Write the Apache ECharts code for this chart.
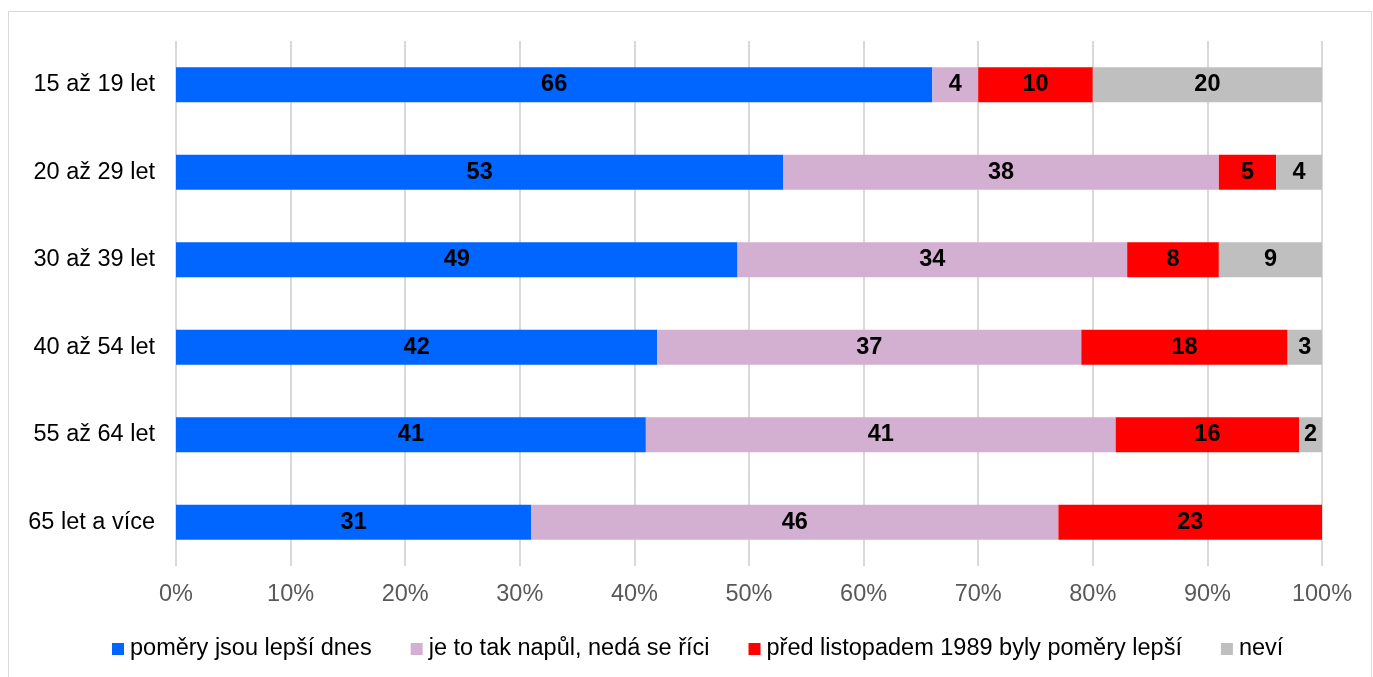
<!DOCTYPE html>
<html>
<head>
<meta charset="utf-8">
<script src="https://cdn.jsdelivr.net/npm/echarts@6/dist/echarts.min.js"></script>
<style>
  html, body { margin: 0; padding: 0; background: #fff; }
  #chart { width: 1373px; height: 677px; }
</style>
</head>
<body>
<div id="chart"></div>
<script>
const categories = ['15 až 19 let', '20 až 29 let', '30 až 39 let', '40 až 54 let', '55 až 64 let', '65 let a více']
const seriesNames = ['poměry jsou lepší dnes', 'je to tak napůl, nedá se říci', 'před listopadem 1989 byly poměry lepší', 'neví']
const lepsiDnes = [66, 53, 49, 42, 41, 31]
const napul = [4, 38, 34, 37, 41, 46]
const pred1989 = [10, 5, 8, 18, 16, 23]
const nevi = [20, 4, 9, 3, 2, 0]
const colors = ['#0066FF', '#D3AFD2', '#FF0000', '#BFBFBF']

const chart = echarts.init(document.getElementById('chart'))
const font = 'Liberation Sans, Arial, sans-serif'

const series = [lepsiDnes, napul, pred1989, nevi].map((vals, i) => {
  return {
    type: 'bar',
    name: seriesNames[i],
    stack: 'total',
    data: vals,
    barWidth: '40%',
    itemStyle: { color: colors[i] },
    label: {
      show: true,
      position: 'inside',
      color: '#000',
      fontWeight: 'bold',
      fontSize: 23.5,
      fontFamily: font,
      formatter: p => (p.value > 0 ? p.value : '')
    }
  }
})

chart.setOption({
  animation: false,
  graphic: [{
    type: 'rect',
    shape: { x: 8.5, y: 11.5, width: 1363, height: 680 },
    style: { fill: 'none', stroke: '#d9d9d9', lineWidth: 1 }
  }],
  grid: { left: 176, right: 51, top: 41, bottom: 111 },
  legend: {
    top: 632,
    left: 107,
    itemWidth: 12,
    itemHeight: 12,
    itemGap: 39,
    icon: 'rect',
    textStyle: { fontSize: 23.5, color: '#000', fontFamily: font, padding: [0, 0, 0, 1] }
  },
  xAxis: {
    type: 'value',
    min: 0,
    max: 100,
    interval: 10,
    axisLine: { show: false },
    axisTick: { show: false },
    axisLabel: { color: '#595959', fontSize: 23.5, fontFamily: font, margin: 17, formatter: '{value}%' },
    splitLine: { lineStyle: { color: '#d9d9d9', width: 2 } }
  },
  yAxis: {
    type: 'category',
    data: categories,
    inverse: true,
    axisLine: { show: false },
    axisTick: { show: false },
    axisLabel: { color: '#000', fontSize: 23.5, fontFamily: font, margin: 21 }
  },
  series: series
})
</script>
</body>
</html>
